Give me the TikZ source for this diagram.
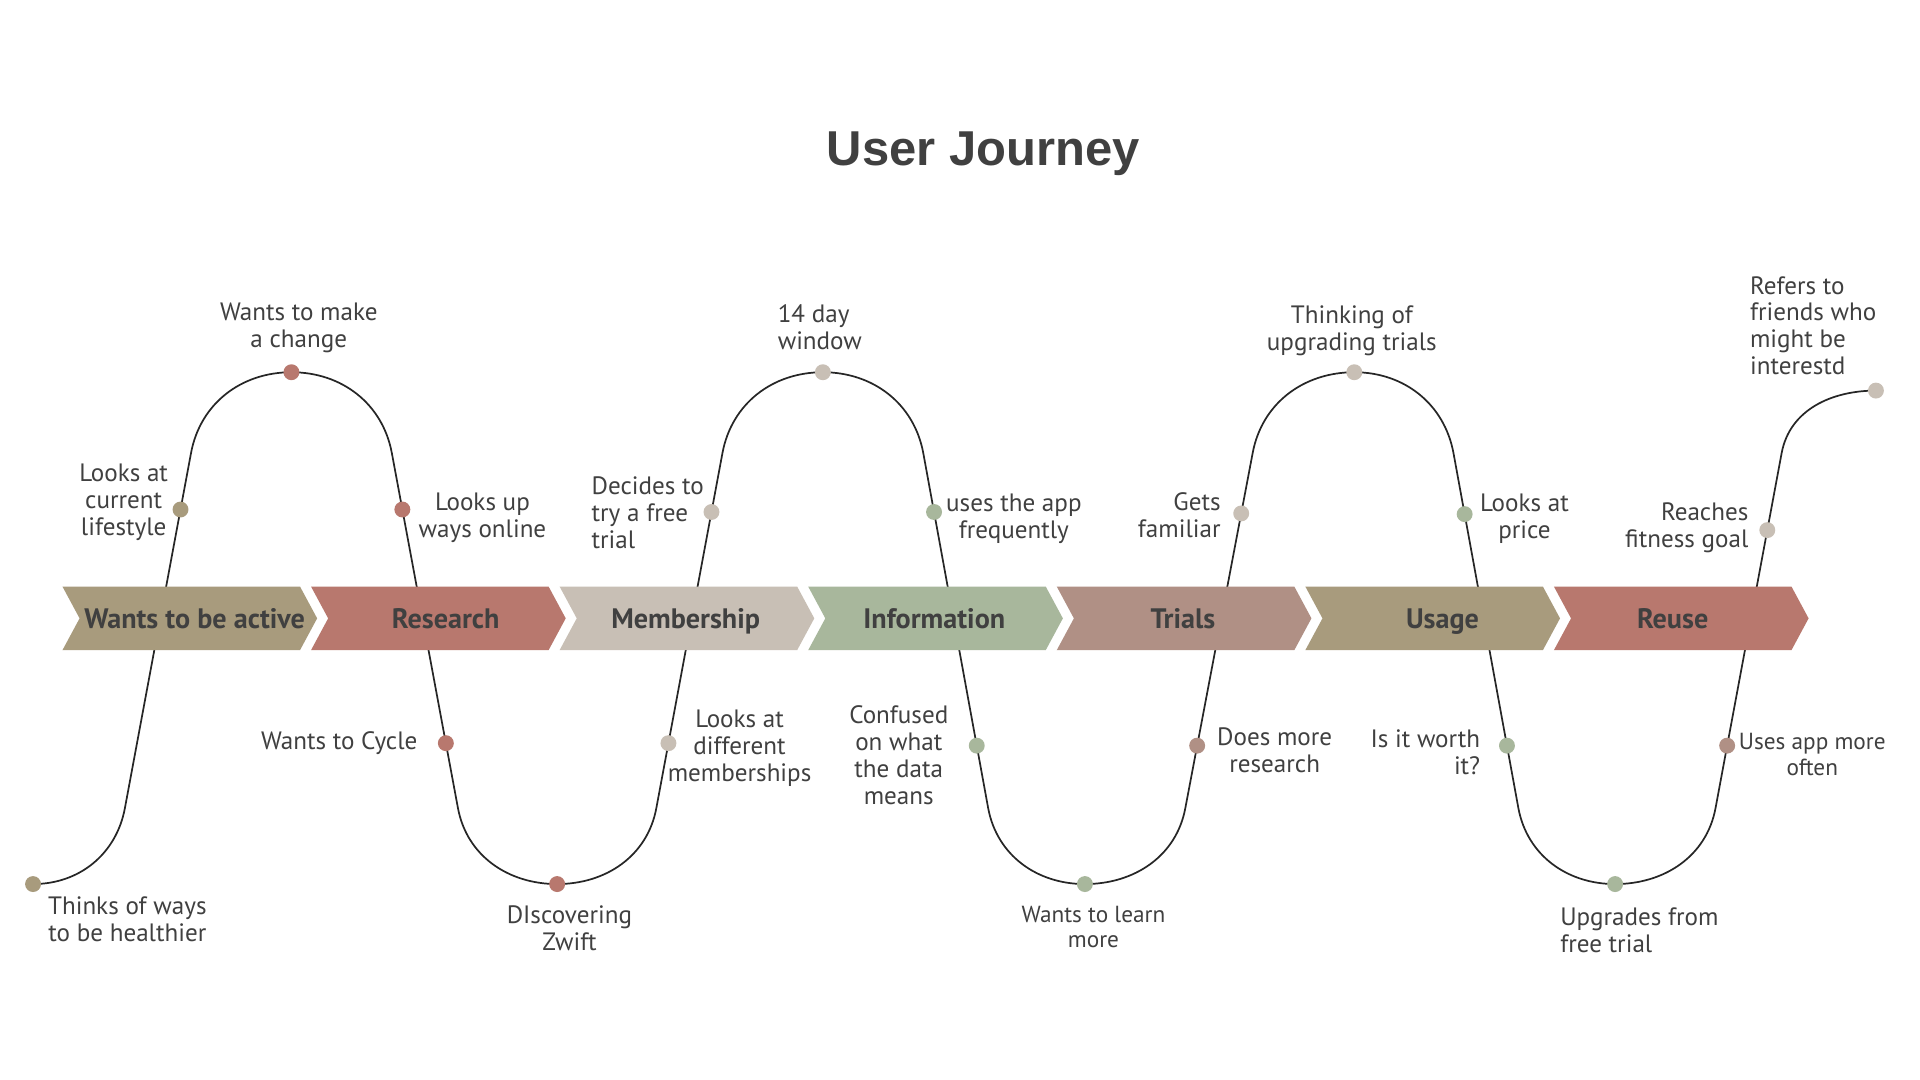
\documentclass[tikz,border=0pt]{standalone}
\usepackage{fontspec}
\setmainfont{PT Sans}
\newfontfamily\titlefont{Liberation Sans}
\usetikzlibrary{calc}
\definecolor{ctan}{HTML}{A89B7D}
\definecolor{cred}{HTML}{B8786E}
\definecolor{cgray}{HTML}{C8BFB5}
\definecolor{cgreen}{HTML}{A8B79C}
\definecolor{cmauve}{HTML}{B09085}
\definecolor{txt}{HTML}{404040}
\begin{document}
\begin{tikzpicture}[x=1pt,y=1pt,
  lbl/.style={font=\fontsize{20.5}{22}\selectfont, text=txt, inner sep=0pt, align=center},
  lbls/.style={font=\fontsize{19}{21}\selectfont, text=txt, inner sep=0pt, align=center},
  dot/.style={circle, inner sep=0pt, minimum size=13pt, fill=#1},
  chevtext/.style={font=\bfseries\fontsize{23}{26}\selectfont, text=txt, inner sep=0pt, anchor=base},
  curve/.style={line width=1.4pt, draw=black!85, line join=round}]
\useasboundingbox (0,0) rectangle (1568,882);
\fill[white] (0,0) rectangle (1568,882);
% title
\node[font=\titlefont\bfseries\fontsize{40}{44}\selectfont, text=txt, anchor=base, inner sep=0pt] (title) at (803,747) {User Journey};
% curve coordinates
\coordinate (s0) at (27,160);
\coordinate (a1) at (102,222); \coordinate (b1) at (156,512); \coordinate (t1) at (238,578);
\coordinate (a2) at (320,512); \coordinate (b2) at (374,222); \coordinate (u1) at (455,160);
\coordinate (a3) at (536,222); \coordinate (b3) at (590,512); \coordinate (t2) at (672,578);
\coordinate (a4) at (754,512); \coordinate (b4) at (807,222); \coordinate (u2) at (886,160);
\coordinate (a5) at (968,222); \coordinate (b5) at (1023,512); \coordinate (t3) at (1106,578);
\coordinate (a6) at (1187,512); \coordinate (b6) at (1240,222); \coordinate (u3) at (1319,160);
\coordinate (a7) at (1401,222); \coordinate (b7) at (1455,512); \coordinate (e0) at (1532,563);
\draw[curve] (s0) to[out=0,in=-100.55] (a1) -- (b1) to[out=79.45,in=180] (t1)
  to[out=0,in=100.55] (a2) -- (b2) to[out=-79.45,in=180] (u1)
  to[out=0,in=-100.55] (a3) -- (b3) to[out=79.45,in=180] (t2)
  to[out=0,in=100.55] (a4) -- (b4) to[out=-79.45,in=180] (u2)
  to[out=0,in=-100.55] (a5) -- (b5) to[out=79.45,in=180] (t3)
  to[out=0,in=100.55] (a6) -- (b6) to[out=-79.45,in=180] (u3)
  to[out=0,in=-100.55] (a7) -- (b7) to[out=79.45,in=180] (e0);
% chevrons
\foreach \i/\c in {0/ctan,1/cred,2/cgray,3/cgreen,4/cmauve,5/ctan,6/cred}{
  \pgfmathsetmacro\xl{51+203*\i}
  \fill[\c] (\xl,403) -- ++(194,0) -- ++(14,-26) -- ++(-14,-26) -- ++(-194,0) -- ++(14,26) -- cycle;
}
\node[chevtext] (p1) at (159,369) {Wants to be active};
\node[chevtext] (p2) at (364,369) {Research};
\node[chevtext] (p3) at (560,369) {Membership};
\node[chevtext] (p4) at (763,369) {Information};
\node[chevtext] (p5) at (966,369) {Trials};
\node[chevtext] (p6) at (1178,369) {Usage};
\node[chevtext] (p7) at (1366,369) {Reuse};
% dots
\node[dot=ctan] (d1) at (s0) {};
\node[dot=ctan] (d2) at ($(a1)!0.841!(b1)$) {};
\node[dot=cred] (d3) at (t1) {};
\node[dot=cred] (d4) at ($(a2)!0.159!(b2)$) {};
\node[dot=cred] (d5) at ($(a2)!0.817!(b2)$) {};
\node[dot=cred] (d6) at (u1) {};
\node[dot=cgray] (d7) at ($(a3)!0.183!(b3)$) {};
\node[dot=cgray] (d8) at ($(a3)!0.834!(b3)$) {};
\node[dot=cgray] (d9) at (t2) {};
\node[dot=cgreen] (d10) at ($(a4)!0.166!(b4)$) {};
\node[dot=cgreen] (d11) at ($(a4)!0.824!(b4)$) {};
\node[dot=cgreen] (d12) at (u2) {};
\node[dot=cmauve] (d13) at ($(a5)!0.176!(b5)$) {};
\node[dot=cgray] (d14) at ($(a5)!0.830!(b5)$) {};
\node[dot=cgray] (d15) at (t3) {};
\node[dot=cgreen] (d16) at ($(a6)!0.172!(b6)$) {};
\node[dot=cgreen] (d17) at ($(a6)!0.824!(b6)$) {};
\node[dot=cgreen] (d18) at (u3) {};
\node[dot=cmauve] (d19) at ($(a7)!0.176!(b7)$) {};
\node[dot=cgray] (d20) at ($(a7)!0.783!(b7)$) {};
\node[dot=cgray] (d21) at (e0) {};
% labels
\node[lbl] (l1) at (104,131) {Thinks of ways\\to be healthier};
\node[lbl] (l2) at (101,472) {Looks at\\current\\lifestyle};
\node[lbl] (l3) at (244,614) {Wants to make\\a change};
\node[lbl] (l4) at (394,459) {Looks up\\ways online};
\node[lbl, anchor=east] (l5) at (341,275) {Wants to Cycle};
\node[lbl] (l6) at (465,124) {DIscovering\\Zwift};
\node[lbl] (l7) at (604,271) {Looks at\\different\\memberships};
\node[lbl, align=left, anchor=west] (l8) at (483,463) {Decides to\\try a free\\trial};
\node[lbl, align=left, anchor=west] (l9) at (635,615) {14 day\\window};
\node[lbl] (l10) at (828,458) {uses the app\\frequently};
\node[lbl] (l11) at (734,265) {Confused\\on what\\the data\\means};
\node[lbls] (l12) at (893,125) {Wants to learn\\more};
\node[lbl] (l13) at (1041,269) {Does more\\research};
\node[lbl, align=right, anchor=east] (l14) at (997,461) {Gets\\familiar};
\node[lbl] (l15) at (1104,612) {Thinking of\\upgrading trials};
\node[lbl] (l16) at (1245,458) {Looks at\\price};
\node[lbl, align=right, anchor=east] (l17) at (1209,268) {Is it worth\\it?};
\node[lbl, align=left, anchor=west] (l18) at (1274,122) {Upgrades from\\free trial};
\node[lbls] (l19) at (1480,266) {Uses app more\\often};
\node[lbl, align=right, anchor=east] (l20) at (1428,451) {Reaches\\fitness goal};
\node[lbl, align=left, anchor=west] (l21) at (1429,616) {Refers to\\friends who\\might be\\interestd};
\end{tikzpicture}
\end{document}
